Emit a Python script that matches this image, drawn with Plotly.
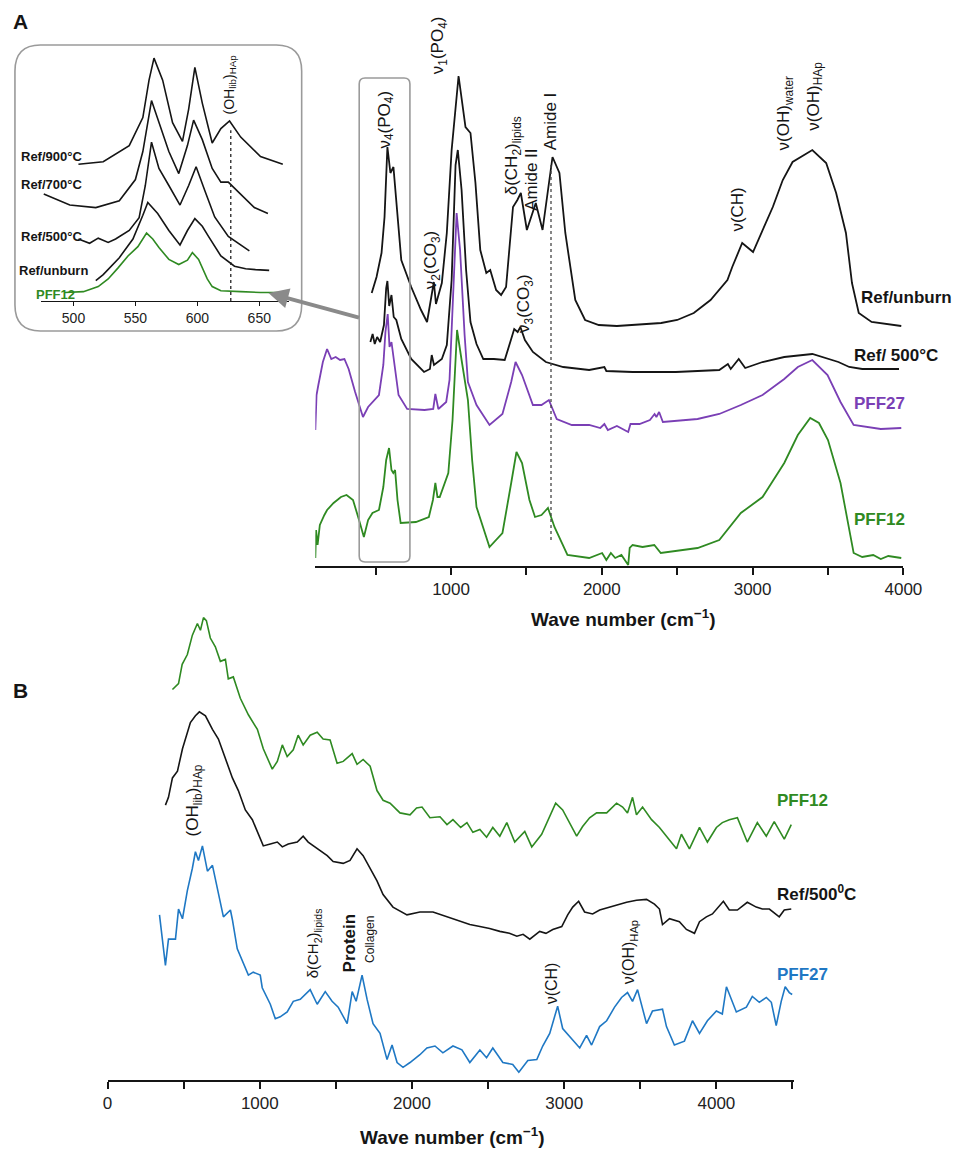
import plotly.graph_objects as go

W, H = 969, 1149

# ---------------- Panel A : FTIR spectra (offset, a.u.) ----------------
a_unburn_wn = [474, 506, 539, 559, 578, 598, 618, 637, 670, 736, 801, 841, 872, 886, 900, 939, 972, 1004, 1050,
               1096, 1129, 1162, 1194, 1234, 1260, 1299, 1332, 1365, 1411, 1440, 1463, 1503, 1562, 1607, 1673,
               1719, 1758, 1824, 1889, 1980, 2100, 2200, 2300, 2394, 2500, 2610, 2721, 2833, 2865, 2905, 2931,
               3003, 3069, 3134, 3200, 3265, 3396, 3488, 3554, 3619, 3659, 3704, 3789, 3986]
a_unburn_ab = [2.73, 2.89, 3.13, 3.49, 4.19, 3.93, 3.99, 3.66, 3.06, 2.79, 2.56, 2.44, 2.70, 2.84, 2.62, 2.83, 3.33,
               4.16, 4.90, 4.39, 4.33, 3.83, 3.16, 2.93, 2.96, 2.76, 2.71, 2.79, 3.59, 3.66, 3.73, 3.36, 3.63,
               3.36, 4.09, 3.93, 3.33, 2.66, 2.46, 2.41, 2.40, 2.41, 2.42, 2.43, 2.46, 2.53, 2.66, 2.86, 2.99,
               3.13, 3.23, 3.14, 3.36, 3.59, 3.86, 4.04, 4.16, 4.03, 3.73, 3.33, 2.83, 2.53, 2.44, 2.40]

a_ref500_wn = [465, 480, 494, 510, 530, 555, 570, 578, 590, 598, 605, 620, 637, 670, 736, 821, 860, 872, 887, 939,
               972, 1004, 1030, 1045, 1070, 1100, 1129, 1169, 1214, 1284, 1356, 1399, 1419, 1442, 1460, 1490,
               1543, 1629, 1744, 1916, 2017, 2030, 2204, 2491, 2779, 2836, 2855, 2908, 2951, 3066, 3210, 3396,
               3497, 3569, 3641, 3727, 3971]
a_ref500_ab = [2.24, 2.32, 2.22, 2.29, 2.24, 2.41, 2.78, 2.85, 2.60, 2.68, 2.71, 2.49, 2.46, 2.27, 2.07, 1.94,
               1.97, 2.11, 2.01, 2.07, 2.21, 2.86, 4.01, 4.16, 3.76, 2.96, 2.44, 2.22, 2.07, 2.07, 2.06, 2.27,
               2.37, 2.34, 2.39, 2.26, 2.14, 2.04, 1.99, 1.96, 1.99, 1.95, 1.94, 1.94, 1.96, 2.02, 1.97, 2.07,
               1.98, 2.04, 2.09, 2.12, 2.07, 2.04, 1.99, 1.97, 1.97]

a_pff27_wn = [100, 108, 120, 150, 178, 206, 235, 264, 293, 321, 364, 416, 450, 479, 522, 551, 565, 580, 592, 605,
              617, 652, 709, 824, 882, 896, 916, 968, 990, 1010, 1037, 1060, 1090, 1112, 1169, 1255, 1341, 1399,
              1428, 1471, 1543, 1600, 1649, 1701, 1801, 1916, 1990, 2017, 2040, 2100, 2175, 2190, 2250, 2319,
              2350, 2362, 2380, 2405, 2635, 2779, 2922, 3066, 3210, 3300, 3396, 3497, 3583, 3670, 3756, 3850, 3986]
a_pff27_ab = [1.36, 1.71, 1.81, 2.04, 2.17, 2.07, 2.09, 2.06, 2.07, 1.97, 1.74, 1.49, 1.59, 1.64, 1.71, 2.01,
              2.34, 2.52, 2.19, 2.24, 2.09, 1.71, 1.57, 1.56, 1.57, 1.72, 1.57, 1.64, 1.86, 2.61, 3.53, 3.16,
              2.31, 1.84, 1.61, 1.41, 1.52, 1.84, 2.04, 1.91, 1.61, 1.61, 1.66, 1.47, 1.41, 1.41, 1.38, 1.42,
              1.36, 1.40, 1.34, 1.42, 1.42, 1.46, 1.52, 1.49, 1.54, 1.44, 1.47, 1.52, 1.61, 1.71, 1.87, 1.99,
              2.06, 1.91, 1.64, 1.41, 1.39, 1.37, 1.38]

a_pff12_wn = [100, 105, 115, 130, 160, 178, 221, 270, 307, 350, 390, 422, 450, 479, 522, 551, 570, 589, 605, 617,
              629, 645, 666, 767, 853, 880, 896, 910, 925, 982, 1010, 1040, 1070, 1112, 1140, 1169, 1255, 1341,
              1399, 1434, 1471, 1520, 1557, 1600, 1643, 1686, 1772, 1916, 2002, 2030, 2060, 2089, 2130, 2175,
              2185, 2204, 2270, 2348, 2391, 2500, 2635, 2779, 2922, 3066, 3210, 3300, 3382, 3440, 3500, 3583,
              3670, 3727, 3800, 3850, 3900, 3986]
a_pff12_ab = [0.08, 0.36, 0.21, 0.41, 0.51, 0.56, 0.63, 0.69, 0.71, 0.66, 0.46, 0.29, 0.46, 0.53, 0.56, 0.79,
              1.06, 1.18, 0.96, 0.93, 0.96, 0.66, 0.43, 0.44, 0.49, 0.66, 0.83, 0.69, 0.69, 0.93, 1.46, 2.36,
              2.06, 1.66, 1.06, 0.59, 0.19, 0.33, 0.83, 1.14, 1.03, 0.66, 0.49, 0.51, 0.58, 0.39, 0.11, 0.08,
              0.13, 0.06, 0.13, 0.08, 0.11, 0.01, 0.18, 0.21, 0.19, 0.21, 0.13, 0.15, 0.18, 0.26, 0.53, 0.69,
              1.03, 1.31, 1.48, 1.43, 1.26, 0.83, 0.13, 0.09, 0.11, 0.07, 0.10, 0.08]

# ---------------- Inset : nu4(PO4) region ----------------
i_900_wn = [504, 524, 545, 556, 561, 565, 572, 580, 588, 593, 598, 604, 612, 619, 626, 635, 651, 669]
i_900_ab = [2.30, 2.33, 2.52, 2.85, 3.29, 3.55, 3.29, 2.79, 2.57, 2.95, 3.44, 3.02, 2.55, 2.72, 2.81, 2.62, 2.39, 2.30]
i_700_wn = [476, 497, 518, 537, 550, 556, 563, 569, 577, 585, 592, 597, 604, 612, 619, 625, 635, 646, 657]
i_700_ab = [1.95, 1.82, 1.79, 1.87, 2.12, 2.45, 3.05, 2.79, 2.45, 2.19, 2.52, 2.82, 2.59, 2.25, 2.09, 2.09, 1.95,
            1.79, 1.72]
i_500_wn = [504, 513, 520, 528, 534, 545, 553, 558, 563, 569, 577, 586, 593, 599, 606, 614, 625, 634, 642]
i_500_ab = [1.42, 1.37, 1.43, 1.38, 1.42, 1.52, 1.67, 2.05, 2.56, 2.25, 2.05, 1.82, 2.05, 2.27, 1.99, 1.68, 1.45,
            1.36, 1.28]
i_unb_wn = [518, 524, 537, 548, 556, 560, 568, 577, 586, 592, 598, 604, 609, 619, 630, 639, 647, 658]
i_unb_ab = [0.93, 1.00, 1.20, 1.42, 1.70, 1.85, 1.72, 1.52, 1.35, 1.52, 1.66, 1.57, 1.45, 1.22, 1.10, 1.07, 1.06, 1.05]
i_p12_wn = [493, 508, 520, 528, 536, 544, 552, 559, 564, 569, 577, 585, 592, 596, 601, 605, 608, 612, 619, 635,
            651, 666]
i_p12_ab = [0.79, 0.80, 0.86, 0.95, 1.08, 1.22, 1.33, 1.49, 1.42, 1.32, 1.18, 1.12, 1.17, 1.26, 1.18, 1.05, 0.95,
            0.86, 0.81, 0.80, 0.79, 0.79]

# ---------------- Panel B : difference spectra (offset, a.u.) ----------------
b_pff12_wn = [426, 466, 490, 524, 557, 590, 610, 630, 649, 675, 708, 741, 774, 793, 826, 872, 925, 984, 1023, 1082,
              1115, 1148, 1180, 1220, 1252, 1285, 1331, 1377, 1416, 1462, 1508, 1548, 1607, 1639, 1679, 1725,
              1770, 1810, 1856, 1921, 1987, 2030, 2066, 2118, 2184, 2230, 2269, 2320, 2361, 2400, 2446, 2490,
              2531, 2577, 2623, 2675, 2741, 2787, 2852, 2905, 2944, 2990, 3040, 3082, 3121, 3167, 3213, 3279,
              3344, 3384, 3416, 3449, 3475, 3515, 3574, 3626, 3672, 3738, 3770, 3823, 3889, 3941, 4000, 4039,
              4085, 4138, 4203, 4269, 4328, 4380, 4446, 4492]
b_pff12_ab = [4.02, 4.08, 4.28, 4.38, 4.58, 4.70, 4.63, 4.76, 4.73, 4.55, 4.46, 4.31, 4.33, 4.13, 4.15, 3.93, 3.76,
              3.61, 3.41, 3.20, 3.28, 3.45, 3.33, 3.40, 3.55, 3.45, 3.55, 3.58, 3.51, 3.50, 3.26, 3.28, 3.36,
              3.25, 3.30, 3.23, 2.98, 2.88, 2.85, 2.75, 2.73, 2.80, 2.81, 2.70, 2.71, 2.63, 2.68, 2.60, 2.65,
              2.55, 2.58, 2.50, 2.60, 2.51, 2.65, 2.45, 2.56, 2.40, 2.53, 2.71, 2.85, 2.78, 2.63, 2.51, 2.61,
              2.70, 2.75, 2.75, 2.85, 2.81, 2.75, 2.91, 2.73, 2.81, 2.68, 2.60, 2.51, 2.38, 2.53, 2.38, 2.60,
              2.45, 2.60, 2.65, 2.68, 2.70, 2.45, 2.65, 2.51, 2.66, 2.48, 2.63]

b_ref500_wn = [380, 400, 426, 459, 492, 544, 577, 603, 643, 689, 728, 774, 820, 859, 905, 951, 984, 1023, 1069,
               1115, 1148, 1187, 1246, 1285, 1318, 1377, 1443, 1482, 1548, 1593, 1639, 1679, 1725, 1770, 1810,
               1875, 1967, 2052, 2138, 2230, 2315, 2380, 2446, 2510, 2577, 2640, 2689, 2730, 2774, 2839, 2880,
               2925, 2984, 3023, 3056, 3095, 3134, 3187, 3233, 3298, 3351, 3410, 3475, 3541, 3593, 3626, 3646,
               3692, 3757, 3803, 3856, 3889, 3934, 3974, 4046, 4085, 4138, 4203, 4262, 4302, 4348, 4413, 4446, 4492]
b_ref500_ab = [2.83, 2.91, 3.11, 3.18, 3.41, 3.68, 3.75, 3.79, 3.75, 3.61, 3.51, 3.31, 3.11, 2.98, 2.78, 2.68,
               2.55, 2.41, 2.43, 2.45, 2.40, 2.43, 2.45, 2.51, 2.45, 2.38, 2.31, 2.25, 2.23, 2.26, 2.38, 2.31,
               2.18, 2.05, 1.91, 1.78, 1.70, 1.73, 1.73, 1.68, 1.63, 1.60, 1.58, 1.56, 1.53, 1.51, 1.48, 1.50,
               1.45, 1.53, 1.51, 1.55, 1.58, 1.70, 1.78, 1.84, 1.73, 1.71, 1.75, 1.78, 1.81, 1.83, 1.85, 1.86,
               1.81, 1.76, 1.60, 1.66, 1.63, 1.55, 1.51, 1.63, 1.68, 1.71, 1.84, 1.75, 1.75, 1.83, 1.78, 1.76,
               1.76, 1.68, 1.75, 1.76]

b_pff27_wn = [341, 380, 400, 446, 466, 492, 524, 544, 557, 577, 597, 623, 656, 689, 721, 761, 807, 820, 852, 892,
              925, 957, 1003, 1016, 1069, 1102, 1134, 1180, 1220, 1266, 1331, 1377, 1430, 1475, 1515, 1574, 1607,
              1633, 1672, 1705, 1744, 1790, 1836, 1869, 1902, 1941, 1987, 2052, 2098, 2151, 2203, 2269, 2328,
              2380, 2446, 2490, 2531, 2597, 2662, 2702, 2761, 2820, 2859, 2905, 2957, 2990, 3036, 3102, 3147,
              3180, 3233, 3279, 3331, 3377, 3416, 3449, 3482, 3541, 3580, 3646, 3672, 3724, 3790, 3843, 3889,
              3941, 4000, 4039, 4066, 4131, 4197, 4236, 4282, 4328, 4361, 4393, 4426, 4452, 4479, 4498]
b_pff27_ab = [1.70, 1.18, 1.45, 1.45, 1.76, 1.66, 1.95, 2.08, 2.18, 2.35, 2.26, 2.41, 2.15, 2.21, 1.98, 1.68,
              1.75, 1.65, 1.35, 1.21, 1.08, 1.11, 1.08, 0.95, 0.78, 0.63, 0.65, 0.70, 0.81, 0.83, 0.93, 0.78,
              0.91, 0.81, 0.75, 0.58, 0.91, 0.81, 1.08, 0.83, 0.58, 0.48, 0.21, 0.36, 0.18, 0.13, 0.18, 0.26,
              0.33, 0.35, 0.28, 0.35, 0.31, 0.18, 0.31, 0.23, 0.33, 0.18, 0.16, 0.08, 0.20, 0.21, 0.35, 0.48,
              0.76, 0.53, 0.45, 0.33, 0.46, 0.36, 0.55, 0.61, 0.75, 0.85, 0.90, 0.81, 0.93, 0.58, 0.71, 0.73,
              0.55, 0.36, 0.40, 0.61, 0.48, 0.61, 0.71, 0.68, 0.96, 0.70, 0.75, 0.86, 0.80, 0.85, 0.80, 0.56,
              0.81, 0.96, 0.90, 0.88]

# tick labels
a_ticks = [500, 1000, 1500, 2000, 2500, 3000, 3500, 4000]
a_ticktext = ["", "1000", "", "2000", "", "3000", "", "4000"]
b_ticks = [0, 500, 1000, 1500, 2000, 2500, 3000, 3500, 4000, 4500]
b_ticktext = ["0", "", "1000", "", "2000", "", "3000", "", "4000", ""]
i_ticks = [500, 550, 600, 650]

BLACK = "#151515"
GREEN = "#2f8a22"
PURPLE = "#7a3fb5"
BLUE = "#1f78c4"
GRAY = "#9a9a9a"
FONT = "Liberation Sans"


def X(px):
    return px / W


def Y(py):
    return 1 - py / H


fig = go.Figure()


def add(xs, ys, color, xa, ya, width=1.8):
    fig.add_trace(go.Scatter(x=xs, y=ys, mode="lines", line=dict(color=color, width=width),
                             xaxis=xa, yaxis=ya, showlegend=False, hoverinfo="skip"))


add(a_unburn_wn, a_unburn_ab, BLACK, "x", "y")
add(a_ref500_wn, a_ref500_ab, BLACK, "x", "y")
add(a_pff27_wn, a_pff27_ab, PURPLE, "x", "y")
add(a_pff12_wn, a_pff12_ab, GREEN, "x", "y")

add(b_pff12_wn, b_pff12_ab, GREEN, "x2", "y2", 1.6)
add(b_ref500_wn, b_ref500_ab, BLACK, "x2", "y2", 1.6)
add(b_pff27_wn, b_pff27_ab, BLUE, "x2", "y2", 1.6)

add(i_900_wn, i_900_ab, BLACK, "x3", "y3", 1.6)
add(i_700_wn, i_700_ab, BLACK, "x3", "y3", 1.6)
add(i_500_wn, i_500_ab, BLACK, "x3", "y3", 1.6)
add(i_unb_wn, i_unb_ab, BLACK, "x3", "y3", 1.6)
add(i_p12_wn, i_p12_ab, GREEN, "x3", "y3", 1.6)

axis_common = dict(showgrid=False, zeroline=False, showline=True, linecolor=BLACK, ticks="outside",
                   tickcolor=BLACK, tickfont=dict(family=FONT, size=17, color="#222"))

fig.update_layout(
    width=W, height=H, paper_bgcolor="white", plot_bgcolor="rgba(0,0,0,0)",
    margin=dict(l=0, r=0, t=0, b=0), showlegend=False,
    xaxis=dict(domain=[X(310), X(913)], range=[100, 4000], anchor="y", tickvals=a_ticks, ticktext=a_ticktext,
               linewidth=2, ticklen=7, tickwidth=1.5, **axis_common),
    yaxis=dict(domain=[Y(558), Y(32)], range=[0, 5.26], visible=False),
    xaxis2=dict(domain=[X(97), X(801)], range=[0, 4511], anchor="y2", tickvals=b_ticks, ticktext=b_ticktext,
                linewidth=2, ticklen=7, tickwidth=1.5, **axis_common),
    yaxis2=dict(domain=[Y(1072), Y(598)], range=[0, 4.88], visible=False),
    xaxis3=dict(domain=[X(29), X(283)], range=[474, 674], anchor="y3", tickvals=i_ticks,
                linewidth=1, ticklen=4, tickwidth=1,
                **{**axis_common, "tickfont": dict(family=FONT, size=14, color="#222")}),
    yaxis3=dict(domain=[Y(293), Y(45)], range=[0.69, 3.61], visible=False),
)


def rounded(x0, y0, x1, y1, r):
    rx, ry = r / W, r / H
    a, b, c, d = X(x0), Y(y0), X(x1), Y(y1)
    return (f"M {a+rx},{b} L {c-rx},{b} Q {c},{b} {c},{b-ry} L {c},{d+ry} Q {c},{d} {c-rx},{d} "
            f"L {a+rx},{d} Q {a},{d} {a},{d+ry} L {a},{b-ry} Q {a},{b} {a+rx},{b} Z")


shapes = [
    dict(type="path", xref="paper", yref="paper", path=rounded(2, 37, 296, 323, 26),
         line=dict(color=GRAY, width=1.6)),
    dict(type="path", xref="paper", yref="paper", path=rounded(355, 70, 407, 554, 6),
         line=dict(color=GRAY, width=1.6)),
    dict(type="line", xref="x", yref="y", x0=1663, x1=1663, y0=0.26, y1=4.03,
         line=dict(color="#444", width=1.3, dash="dot")),
    dict(type="line", xref="x3", yref="y3", x0=627, x1=627, y0=0.69, y1=2.70,
         line=dict(color="#222", width=1.3, dash="dot")),
]
fig.update_layout(shapes=shapes)

ann = []


def txt(text, px, py, size=15, color=BLACK, angle=0, xanchor="center", bold=False, family=FONT):
    if bold:
        text = f"<b>{text}</b>"
    ann.append(dict(text=text, x=X(px), y=Y(py), xref="paper", yref="paper", showarrow=False,
                    textangle=angle, xanchor=xanchor, yanchor="middle",
                    font=dict(family=family, size=size, color=color)))


# panel letters
txt("A", 8, 14, 21, bold=True)
txt("B", 8, 682, 21, bold=True)

# Panel A peak labels (rotated)
txt("ν<sub>4</sub>(PO<sub>4</sub>)", 382, 112, 17, angle=-90)
txt("ν<sub>1</sub>(PO<sub>4</sub>)", 437, 37, 17, angle=-90)
txt("ν<sub>2</sub>(CO<sub>3</sub>)", 430, 252, 17, angle=-90)
txt("δ(CH<sub>2</sub>)<sub>lipids</sub>", 513, 148, 17, angle=-90)
txt("Amide II", 532, 172, 17, angle=-90)
txt("Amide I", 552, 113, 17, angle=-90)
txt("ν<sub>3</sub>(CO<sub>3</sub>)", 525, 295, 17, angle=-90)
txt("ν(CH)", 742, 202, 17, angle=-90)
txt("ν(OH)<sub>water</sub>", 792, 105, 17, angle=-90)
txt("ν(OH)<sub>HAp</sub>", 822, 88, 17, angle=-90)

# Panel A series labels
txt("Ref/unburn", 867, 289, 17, bold=True, xanchor="left")
txt("Ref/ 500°C", 860, 347, 17, bold=True, xanchor="left")
txt("PFF27", 860, 395, 17, PURPLE, bold=True, xanchor="left")
txt("PFF12", 860, 512, 17, GREEN, bold=True, xanchor="left")
txt("Wave number (cm<sup>−1</sup>)", 625, 610, 19, bold=True)

# Inset labels
txt("Ref/900°C", 6, 148, 13, bold=True, xanchor="left")
txt("Ref/700°C", 6, 176, 13, bold=True, xanchor="left")
txt("Ref/500°C", 6, 229, 13, bold=True, xanchor="left")
txt("Ref/unburn", 4, 263, 13, bold=True, xanchor="left")
txt("PFF12", 22, 287, 13, GREEN, bold=True, xanchor="left")
txt("(OH<sub>lib</sub>)<sub>HAp</sub>", 222, 77, 14, angle=-90)

# Panel B labels
txt("(OH<sub>lib</sub>)<sub>HAp</sub>", 186, 792, 17, angle=-90)
txt("δ(CH<sub>2</sub>)<sub>lipids</sub>", 308, 935, 15, angle=-90)
txt("Protein", 345, 935, 17, angle=-90, bold=True)
txt("Collagen", 366, 931, 12, angle=-90)
txt("ν(CH)", 552, 975, 16, angle=-90)
txt("ν(OH)<sub>HAp</sub>", 632, 944, 16, angle=-90)
txt("PFF12", 781, 792, 17, GREEN, bold=True, xanchor="left")
txt("Ref/500<sup>0</sup>C", 781, 885, 17, bold=True, xanchor="left")
txt("PFF27", 781, 967, 17, BLUE, bold=True, xanchor="left")
txt("Wave number (cm<sup>−1</sup>)", 450, 1128, 19, bold=True)

# arrow from the nu4 box to the inset
ann.append(dict(x=X(262), y=Y(285), xref="paper", yref="paper", ax=92, ay=25, text="",
                showarrow=True, arrowhead=2, arrowsize=1.0, arrowwidth=4, arrowcolor="#8a8a8a"))

fig.update_layout(annotations=ann)

fig.write_html("out.html")
